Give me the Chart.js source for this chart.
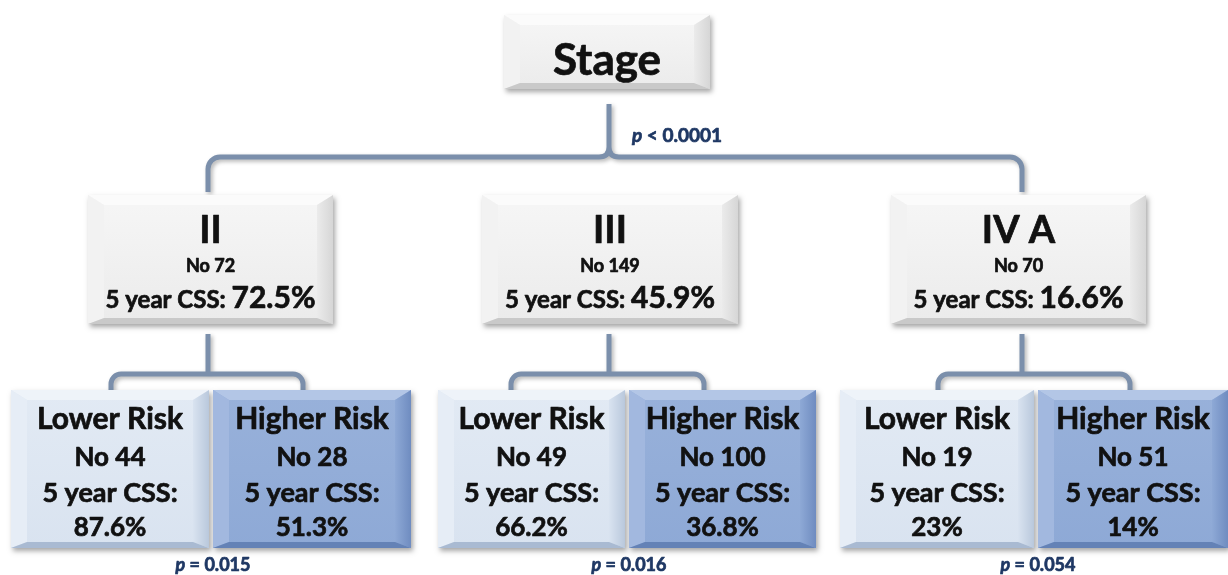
<!DOCTYPE html>
<html>
<head>
<meta charset="utf-8">
<script src="https://cdn.jsdelivr.net/npm/chart.js@4.4.1/dist/chart.umd.min.js"></script>
<style>
  html, body { margin: 0; padding: 0; background: #fff; }
  #tree { display: block; }
</style>
</head>
<body>
<canvas id="tree" width="1228" height="575"></canvas>
<script>
// data
var rootLabel = 'Stage';
var rootP = '< 0.0001';
var stageLabels = ['II', 'III', 'IV A'];
var stageCounts = [72, 149, 70];
var stageCss = ['72.5%', '45.9%', '16.6%'];
var lowerCounts = [44, 49, 19];
var lowerCss = ['87.6%', '66.2%', '23%'];
var higherCounts = [28, 100, 51];
var higherCss = ['51.3%', '36.8%', '14%'];
var riskP = ['0.015', '0.016', '0.054'];

// layout (axis units = pixels of the 1228x575 picture)
var stemX = [208, 609, 1022];
var topBox = [[88, 333], [482, 738], [891, 1146]];
var pairSplit = [211, 627, 1036];
var pairWidth = [198, 187, 194];
var bracketEnds = [[111, 303], [511, 704], [938, 1130]];

var FONT = 'Lato, "Open Sans", sans-serif';
var INK = '#111111';
var NAVY = '#1f3864';
var LINE = '#7b8fab';

function bevelBox(ctx, x0, y0, x1, y1, c) {
    var b = 16;
    ctx.save();
    ctx.shadowColor = 'rgba(0,0,0,0.35)';
    ctx.shadowBlur = 5;
    ctx.shadowOffsetX = 2;
    ctx.shadowOffsetY = 3;
    ctx.fillStyle = c.face;
    ctx.fillRect(x0, y0, x1 - x0, y1 - y0);
    ctx.restore();
    var g = ctx.createLinearGradient(0, y0, 0, y1);
    g.addColorStop(0, c.faceTop);
    g.addColorStop(1, c.face);
    ctx.fillStyle = g;
    ctx.fillRect(x0, y0, x1 - x0, y1 - y0);
    function quad(pts, col) {
        ctx.beginPath();
        ctx.moveTo(pts[0][0], pts[0][1]);
        for (var i = 1; i < pts.length; i++) ctx.lineTo(pts[i][0], pts[i][1]);
        ctx.closePath();
        ctx.fillStyle = col;
        ctx.fill();
    }
    var bt = 10, bb = 6;
    quad([[x0, y0], [x1, y0], [x1 - b, y0 + bt], [x0 + b, y0 + bt]], c.top);
    quad([[x0, y0], [x0 + b, y0 + bt], [x0 + b, y1 - bb], [x0, y1]], c.left);
    var gr = ctx.createLinearGradient(x1 - b, 0, x1, 0);
    gr.addColorStop(0, c.face);
    gr.addColorStop(1, c.right);
    quad([[x1, y0], [x1, y1], [x1 - b, y1 - bb], [x1 - b, y0 + bt]], gr);
    quad([[x0, y1], [x0 + b, y1 - bb], [x1 - b, y1 - bb], [x1, y1]], c.bottom);
}

var grayStyle = { face: '#ebebeb', faceTop: '#f6f6f6', top: '#fbfbfb', left: '#f2f2f2', right: '#d6d6d6', bottom: '#c9c9c9' };
var lowStyle = { face: '#d9e3f0', faceTop: '#e2eaf4', top: '#eef3f9', left: '#e6edf6', right: '#b9c8dc', bottom: '#a9bad2' };
var highStyle = { face: '#8ea9d6', faceTop: '#98b1da', top: '#b3c6e6', left: '#a2b8df', right: '#6f8cc0', bottom: '#6482b6' };

// bold text with a hairline stroke, closer to the heavy face in the original
function heavyText(ctx, text, x, y, color) {
    ctx.fillStyle = color || INK;
    ctx.strokeStyle = color || INK;
    ctx.lineWidth = 0.7;
    ctx.lineJoin = 'round';
    ctx.fillText(text, x, y);
    ctx.strokeText(text, x, y);
}

function centerText(ctx, parts, cx, y) {
    var total = 0;
    parts.forEach(function (p) { ctx.font = p.font; total += ctx.measureText(p.text).width; });
    var x = cx - total / 2;
    parts.forEach(function (p) {
        ctx.font = p.font;
        ctx.textAlign = 'left';
        heavyText(ctx, p.text, x, y, p.color);
        x += ctx.measureText(p.text).width;
    });
}

function pText(ctx, rel, value, cx, y, size) {
    centerText(ctx, [
        { text: 'p', font: 'italic bold ' + size + 'px ' + FONT, color: NAVY },
        { text: ' ' + rel + ' ' + value, font: 'bold ' + size + 'px ' + FONT, color: NAVY }
    ], cx, y);
}

var treePlugin = {
    id: 'tree',
    afterDatasetsDraw: function (chart) {
        var ctx = chart.ctx;
        var X = function (v) { return chart.scales.x.getPixelForValue(v); };
        var Y = function (v) { return chart.scales.y.getPixelForValue(v); };
        ctx.save();
        ctx.textBaseline = 'alphabetic';

        // connectors
        ctx.save();
        ctx.strokeStyle = LINE;
        ctx.lineWidth = 5;
        ctx.lineCap = 'butt';
        ctx.shadowColor = 'rgba(0,0,0,0.3)';
        ctx.shadowBlur = 4;
        ctx.shadowOffsetX = 2;
        ctx.shadowOffsetY = 2;
        var mid = stemX[1], yb = Y(157);
        ctx.beginPath();
        ctx.moveTo(X(stemX[0]), Y(192));
        ctx.arcTo(X(stemX[0]), yb, X(stemX[0] + 12), yb, 12);
        ctx.lineTo(X(mid - 10), yb);
        ctx.quadraticCurveTo(X(mid), yb, X(mid), Y(147));
        ctx.lineTo(X(mid), Y(104));
        ctx.moveTo(X(stemX[2]), Y(192));
        ctx.arcTo(X(stemX[2]), yb, X(stemX[2] - 12), yb, 12);
        ctx.lineTo(X(mid + 10), yb);
        ctx.quadraticCurveTo(X(mid), yb, X(mid), Y(147));
        ctx.stroke();
        for (var i = 0; i < stageLabels.length; i++) {
            var e = bracketEnds[i], yh = Y(374);
            ctx.beginPath();
            ctx.moveTo(X(stemX[i]), Y(334));
            ctx.lineTo(X(stemX[i]), yh);
            ctx.moveTo(X(e[0]), Y(392));
            ctx.arcTo(X(e[0]), yh, X(e[1]), yh, 10);
            ctx.arcTo(X(e[1]), yh, X(e[1]), Y(392), 10);
            ctx.lineTo(X(e[1]), Y(392));
            ctx.stroke();
        }
        ctx.restore();

        // root
        bevelBox(ctx, X(504), Y(15), X(710), Y(89), grayStyle);
        ctx.textAlign = 'center';
        ctx.font = 'bold 44px ' + FONT;
        heavyText(ctx, rootLabel, X(607), Y(75));
        pText(ctx, rootP.split(' ')[0], rootP.split(' ')[1], X(677), Y(142), 19);

        for (var k = 0; k < stageLabels.length; k++) {
            var tb = topBox[k];
            var cx = (tb[0] + tb[1]) / 2;
            bevelBox(ctx, X(tb[0]), Y(195), X(tb[1]), Y(324), grayStyle);
            ctx.textAlign = 'center';
            ctx.font = 'bold 38px ' + FONT;
            heavyText(ctx, stageLabels[k], X(cx), Y(243));
            ctx.font = 'bold 18px ' + FONT;
            heavyText(ctx, 'No ' + stageCounts[k], X(cx), Y(272));
            centerText(ctx, [
                { text: '5 year CSS: ', font: 'bold 24px ' + FONT },
                { text: stageCss[k], font: 'bold 30px ' + FONT }
            ], X(cx), Y(308));

            var s = pairSplit[k], w = pairWidth[k];
            var groups = [
                { x0: s - 2 - w, x1: s - 2, st: lowStyle, name: 'Lower Risk', n: lowerCounts[k], css: lowerCss[k] },
                { x0: s + 2, x1: Math.min(s + 2 + w, 1228), st: highStyle, name: 'Higher Risk', n: higherCounts[k], css: higherCss[k] }
            ];
            groups.forEach(function (gp) {
                bevelBox(ctx, X(gp.x0), Y(390), X(gp.x1), Y(548), gp.st);
                var c = X((gp.x0 + gp.x1) / 2);
                ctx.textAlign = 'center';
                ctx.font = 'bold 30px ' + FONT;
                heavyText(ctx, gp.name, c, Y(429));
                ctx.font = 'bold 26px ' + FONT;
                heavyText(ctx, 'No ' + gp.n, c, Y(466));
                ctx.font = 'bold 27px ' + FONT;
                heavyText(ctx, '5 year CSS:', c, Y(502));
                ctx.font = 'bold 26px ' + FONT;
                heavyText(ctx, gp.css, c, Y(536));
            });
            pText(ctx, '=', riskP[k], X(s + 2), Y(571), 18);
        }
        ctx.restore();
    }
};

// one invisible point per node so the library places them on its scales
var nodes = [{ x: 607, y: 52, label: rootLabel }];
stageLabels.forEach(function (l, i) {
    nodes.push({ x: (topBox[i][0] + topBox[i][1]) / 2, y: 260, label: l });
    nodes.push({ x: pairSplit[i] - pairWidth[i] / 2, y: 469, label: l + ' lower' });
    nodes.push({ x: pairSplit[i] + pairWidth[i] / 2, y: 469, label: l + ' higher' });
});

new Chart(document.getElementById('tree'), {
    type: 'scatter',
    data: {
        datasets: [{
            label: 'nodes',
            data: nodes,
            pointRadius: 0,
            pointHoverRadius: 0
        }]
    },
    options: {
        responsive: false,
        animation: false,
        events: [],
        layout: { padding: 0 },
        plugins: { legend: { display: false }, tooltip: { enabled: false } },
        scales: {
            x: { type: 'linear', min: 0, max: 1228, display: false },
            y: { type: 'linear', min: 0, max: 575, reverse: true, display: false }
        }
    },
    plugins: [treePlugin]
});
</script>
</body>
</html>
